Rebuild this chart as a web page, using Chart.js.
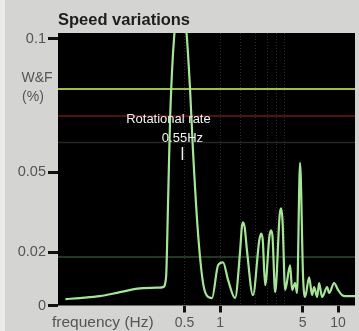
<!DOCTYPE html>
<html>
<head>
<meta charset="utf-8">
<script src="https://cdn.jsdelivr.net/npm/chart.js@4"></script>
<style>
  html, body { margin: 0; padding: 0; background: #d4d4d2; }
  #wrap { width: 359px; height: 331px; }
</style>
</head>
<body>
<div id="wrap"><canvas id="speedChart" width="359" height="331"></canvas></div>
<script>
// spectrum: frequency (Hz) and W&F (%)
const FREQ = [0.049, 0.065, 0.096, 0.142, 0.21, 0.31, 0.329, 0.349, 0.363, 0.377, 0.392, 0.407,
    0.432, 0.458, 0.496, 0.525, 0.557, 0.59, 0.651, 0.718, 0.791, 0.855, 0.962, 1.06, 1.17, 1.34,
    1.48, 1.53, 1.57, 1.62, 1.69, 1.9, 2.15, 2.23, 2.3, 2.41, 2.62, 2.7, 2.78, 2.93, 3.2, 3.29, 3.38, 3.56,
    3.92, 4.08, 4.32, 4.49, 4.76, 5.05,
    5.25, 5.68, 6.02, 6.26, 6.64, 6.9, 7.32, 8.07, 8.39, 9.25, 10.0, 10.8, 11.5, 13.9];
const WF = [0.0024, 0.0028, 0.0035, 0.005, 0.0064, 0.0067, 0.0069, 0.0106, 0.0394, 0.0692, 0.0879, 0.0998,
    0.112, 0.115, 0.112, 0.0998, 0.0812, 0.058, 0.027, 0.0084, 0.0032, 0.0028, 0.0151, 0.0162, 0.0095, 0.0028,
    0.0207, 0.0295, 0.0312, 0.029, 0.0207, 0.0039, 0.0245, 0.027, 0.0245, 0.0076, 0.026, 0.0282, 0.026, 0.005, 0.034, 0.0364, 0.032, 0.0058,
    0.0151, 0.0058, 0.0084, 0.0047, 0.0535, 0.0106,
    0.0032, 0.0106, 0.0039, 0.0069, 0.0032, 0.0084, 0.0032, 0.0069, 0.0047, 0.0084, 0.0058, 0.0039, 0.0035, 0.0035];

// horizontal reference levels across the plot
const REF_LEVELS = [0.0812, 0.0711, 0.0611, 0.0182];
const REF_COLORS = ['#9cbf48', '#6e1a14', '#262626', '#2c4a2c'];
const REF_WIDTHS = [2, 1.5, 1.5, 1.5];

const X_MIN = 0.0424, X_MAX = 13.9;
const Y_MIN = 0, Y_MAX = 0.1022;
const X_TICKS = [0.5, 1, 1.5, 2, 2.5, 3, 3.5, 5, 10];
const X_LABELED = [0.5, 1, 5, 10];
const X_GRID = [0.5, 1, 1.5, 2, 2.5, 3, 3.5];
const Y_TICKS = [0, 0.02, 0.05, 0.1];
const ROT_MARK_HZ = 0.48;

const FONT = '"Liberation Sans", Arial, sans-serif';

const paper = {
    id: 'paper',
    beforeDraw(chart) {
        const c = chart.ctx, a = chart.chartArea;
        c.save();
        c.fillStyle = '#d4d4d2';
        c.fillRect(0, 0, chart.width, chart.height);
        c.fillStyle = '#ebebea';
        c.fillRect(0, 0, 5, chart.height);
        c.fillStyle = '#000';
        c.fillRect(a.left, a.top, a.right - a.left, a.bottom - a.top);
        c.restore();
    },
    afterDraw(chart) {
        const c = chart.ctx, a = chart.chartArea;
        c.save();
        c.fillStyle = '#1e1e1e';
        c.font = 'bold 16.5px ' + FONT;
        c.textBaseline = 'alphabetic';
        c.fillText('Speed variations', a.left, 25);

        c.fillStyle = '#555';
        c.font = '14px ' + FONT;
        c.textAlign = 'center';
        c.fillText('W&F', 37, 82);
        c.fillText('(%)', 33, 101);
        c.textAlign = 'left';
        c.font = '15.5px ' + FONT;
        c.fillText('frequency (Hz)', 52, 327);

        const mx = chart.scales.x.getPixelForValue(ROT_MARK_HZ);
        c.fillStyle = '#f2f2f2';
        c.font = '13px ' + FONT;
        c.textAlign = 'center';
        c.fillText('Rotational rate', mx - 14, 123);
        c.fillText('0.55Hz', mx, 142);
        c.strokeStyle = '#f2f2f2';
        c.lineWidth = 1.5;
        c.beginPath();
        c.moveTo(mx, 147);
        c.lineTo(mx, 160);
        c.stroke();
        c.restore();
    }
};

const datasets = [{
    label: 'W&F',
    data: FREQ.map((f, i) => ({ x: f, y: WF[i] })),
    borderColor: '#a4e596',
    borderWidth: 2.2,
    pointRadius: 0,
    cubicInterpolationMode: 'monotone',
    order: 0
}];
REF_LEVELS.forEach((v, i) => {
    datasets.push({
        label: 'ref' + i,
        data: [{ x: X_MIN, y: v }, { x: X_MAX, y: v }],
        borderColor: REF_COLORS[i],
        borderWidth: REF_WIDTHS[i],
        pointRadius: 0,
        order: 1
    });
});

new Chart(
    document.getElementById('speedChart'),
    {
        type: 'line',
        data: { datasets: datasets },
        plugins: [paper],
        options: {
            responsive: false,
            animation: false,
            layout: { padding: { top: 33, right: 4, left: 0, bottom: 0 } },
            scales: {
                x: {
                    type: 'logarithmic',
                    min: X_MIN,
                    max: X_MAX,
                    afterBuildTicks: s => { s.ticks = X_TICKS.map(v => ({ value: v })); },
                    afterFit: s => { s.height = 25.5; },
                    border: { display: false, dash: [1, 2] },
                    grid: {
                        color: ctx => (ctx.tick && X_GRID.includes(ctx.tick.value)) ? 'rgba(140,140,140,0.3)' : 'rgba(0,0,0,0)',
                        lineWidth: 1,
                        tickColor: ctx => (ctx.tick && X_LABELED.includes(ctx.tick.value)) ? '#111' : 'rgba(0,0,0,0)',
                        tickWidth: 3,
                        tickLength: 7,
                        tickBorderDash: []
                    },
                    ticks: {
                        autoSkip: false,
                        maxRotation: 0,
                        padding: 2,
                        color: '#555',
                        font: { family: FONT, size: 14 },
                        callback: v => X_LABELED.includes(v) ? String(v) : ''
                    }
                },
                y: {
                    min: Y_MIN,
                    max: Y_MAX,
                    afterBuildTicks: s => { s.ticks = Y_TICKS.map(v => ({ value: v })); },
                    afterFit: s => { s.width = 58; },
                    border: { display: false },
                    grid: {
                        drawOnChartArea: false,
                        tickColor: '#111',
                        tickWidth: 3,
                        tickLength: 10
                    },
                    ticks: {
                        padding: 2,
                        color: '#555',
                        font: { family: FONT, size: 14.5 },
                        callback: v => String(v)
                    }
                }
            },
            plugins: {
                legend: { display: false },
                title: { display: false },
                tooltip: { enabled: false }
            }
        }
    }
);
</script>
</body>
</html>
